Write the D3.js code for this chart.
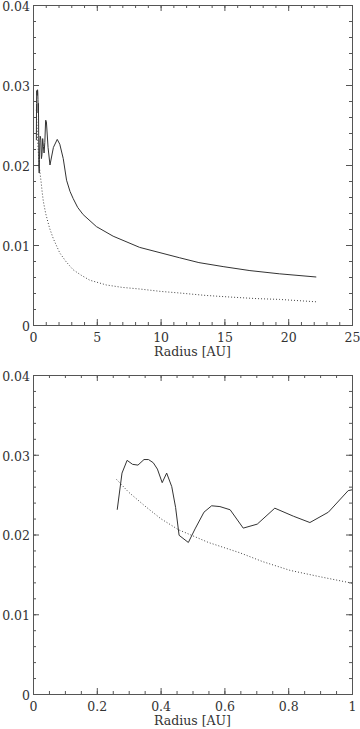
<!DOCTYPE html>
<html>
<head>
<meta charset="utf-8">
<script src="https://cdn.jsdelivr.net/npm/d3@7"></script>
<style>
  body { margin: 0; background: #fff; }
  svg { display: block; }
  text { font-family: "DejaVu Serif", serif; fill: #333; }
</style>
</head>
<body>
<svg id="viz_area" width="360" height="729"></svg>
<script>
// solid curve
const solidR = [0.264, 0.279, 0.295, 0.312, 0.329, 0.348, 0.362, 0.377, 0.390, 0.405,
    0.419, 0.435, 0.447, 0.458, 0.487, 0.508, 0.536, 0.560, 0.586, 0.618,
    0.659, 0.703, 0.758, 0.816, 0.868, 0.926, 0.988, 1.0, 1.05, 1.18,
    1.33, 1.6, 1.9, 2.1, 2.37, 2.63, 2.9, 3.15, 3.5, 3.93,
    4.97, 6.28, 8.36, 11.5, 13.0, 14.9, 17.0, 19.3, 22.2]
const solidV = [0.0231, 0.0277, 0.0293, 0.0288, 0.0287, 0.0294, 0.0294, 0.0290, 0.0282, 0.0265,
    0.0277, 0.0260, 0.0234, 0.0199, 0.0190, 0.0207, 0.0228, 0.0236, 0.0235, 0.0231,
    0.0208, 0.0213, 0.0233, 0.0223, 0.0215, 0.0228, 0.0255, 0.0256, 0.0254, 0.0222,
    0.0200, 0.0222, 0.0232, 0.0226, 0.0208, 0.0181, 0.0167, 0.0158, 0.0147, 0.0138,
    0.0123, 0.0111, 0.0097, 0.0084, 0.0078, 0.0073, 0.0068, 0.0064, 0.0060]

// dotted curve
const dottedR = [0.262, 0.30, 0.35, 0.40, 0.456, 0.55, 0.649, 0.72, 0.806, 0.90,
    1.0, 1.3, 1.59, 2.1, 2.6, 3.15, 3.8, 4.45, 5.76, 7.0,
    8.36, 10.0, 11.5, 13.5, 15.4, 17.5, 19.3, 22.2]
const dottedV = [0.0269, 0.0253, 0.0236, 0.0220, 0.0206, 0.0190, 0.0177, 0.0166, 0.0155, 0.0147,
    0.0139, 0.0121, 0.0108, 0.0090, 0.0079, 0.0069, 0.0062, 0.0056, 0.0050, 0.0047,
    0.0045, 0.0042, 0.0040, 0.0037, 0.0035, 0.0033, 0.0032, 0.0029]

const yTicks = [0, 0.01, 0.02, 0.03, 0.04]
const yMinor = d3.range(0, 0.0401, 0.002)
const xTicksTop = [0, 5, 10, 15, 20, 25]
const xMinorTop = d3.range(0, 25.01, 1)
const xTicksBottom = [0, 0.2, 0.4, 0.6, 0.8, 1]
const xMinorBottom = d3.range(0, 1.001, 0.05)
const xLabel = "Radius [AU]"

const solid = solidR.map((r, i) => ({ r: r, v: solidV[i] }))
const dotted = dottedR.map((r, i) => ({ r: r, v: dottedV[i] }))

const svg = d3.select('#viz_area')
const left = 33, right = 352

drawPanel({ top: 5, bottom: 325, xMax: 25, xTicks: xTicksTop, xMinor: xMinorTop, maxR: 25 })
drawPanel({ top: 375, bottom: 694, xMax: 1, xTicks: xTicksBottom, xMinor: xMinorBottom, maxR: 1 })

function drawPanel(p) {
    const xScale = d3.scaleLinear().domain([0, p.xMax]).range([left, right])
    const yScale = d3.scaleLinear().domain([0, 0.04]).range([p.bottom, p.top])
    const g = svg.append('g')

    // minor ticks on all four sides
    const minor = (axis, vals) => axis.tickValues(vals).tickSize(-3).tickFormat('')
    g.append('g').attr('transform', 'translate(0,' + p.bottom + ')')
        .call(minor(d3.axisBottom(xScale), p.xMinor))
    g.append('g').attr('transform', 'translate(0,' + p.top + ')')
        .call(minor(d3.axisTop(xScale), p.xMinor))
    g.append('g').attr('transform', 'translate(' + left + ',0)')
        .call(minor(d3.axisLeft(yScale), yMinor))
    g.append('g').attr('transform', 'translate(' + right + ',0)')
        .call(minor(d3.axisRight(yScale), yMinor))

    // major ticks
    const xAxis = g.append('g').attr('transform', 'translate(0,' + p.bottom + ')')
        .call(d3.axisBottom(xScale).tickValues(p.xTicks).tickSize(-6).tickPadding(8)
            .tickFormat(d3.format('~g')))
    g.append('g').attr('transform', 'translate(0,' + p.top + ')')
        .call(d3.axisTop(xScale).tickValues(p.xTicks).tickSize(-6).tickFormat(''))
    const yAxis = g.append('g').attr('transform', 'translate(' + left + ',0)')
        .call(d3.axisLeft(yScale).tickValues(yTicks).tickSize(-6).tickPadding(3)
            .tickFormat(d3.format('~g')))
    g.append('g').attr('transform', 'translate(' + right + ',0)')
        .call(d3.axisRight(yScale).tickValues(yTicks).tickSize(-6).tickFormat(''))

    g.selectAll('.domain').attr('stroke', '#555')
    g.selectAll('.tick line').attr('stroke', '#555')
    g.selectAll('.tick text').attr('font-size', 12.5).attr('font-family', '"DejaVu Serif", serif')
        .attr('fill', '#333')
    xAxis.selectAll('.tick text').attr('y', 8).attr('dy', '0.71em')
    yAxis.selectAll('.tick text').attr('dy', '0.43em')

    const line = d3.line().x(d => xScale(d.r)).y(d => yScale(d.v))

    g.append('path')
        .datum(dotted.filter(d => d.r <= p.maxR))
        .attr('d', line)
        .attr('fill', 'none')
        .attr('stroke', '#444')
        .attr('stroke-width', 1)
        .attr('stroke-dasharray', '1,2')

    g.append('path')
        .datum(solid.filter(d => d.r <= p.maxR))
        .attr('d', line)
        .attr('fill', 'none')
        .attr('stroke', '#333')
        .attr('stroke-width', 1)

    g.append('text')
        .attr('x', (left + right) / 2)
        .attr('y', p.bottom + 31)
        .attr('text-anchor', 'middle')
        .attr('font-size', 12.5)
        .text(xLabel)
}
</script>
</body>
</html>
